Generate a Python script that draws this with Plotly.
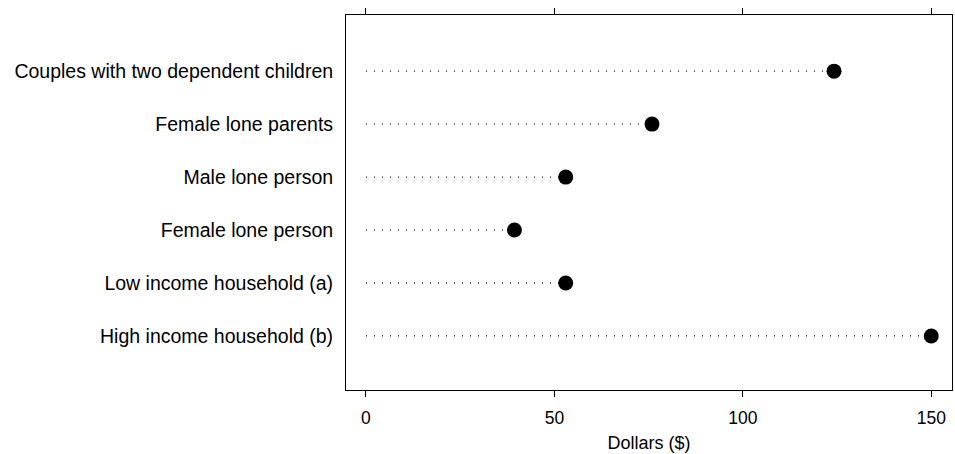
import plotly.graph_objects as go

categories = [
    "Couples with two dependent children",
    "Female lone parents",
    "Male lone person",
    "Female lone person",
    "Low income household (a)",
    "High income household (b)",
]
values = [124.2, 75.9, 53.0, 39.4, 53.0, 150.0]
x_ticks = [0, 50, 100, 150]
x_title = "Dollars ($)"

n = len(categories)
ypos = [n - 1 - i for i in range(n)]

fig = go.Figure()
for cat, v, y in zip(categories, values, ypos):
    fig.add_trace(go.Scatter(
        x=[0, v], y=[y, y], mode="lines",
        line=dict(color="#111111", width=1.3, dash="1px,7px"),
        hoverinfo="skip", showlegend=False,
    ))
fig.add_trace(go.Scatter(
    x=values, y=ypos, mode="markers",
    marker=dict(color="black", size=15),
    text=categories, showlegend=False,
))

font = "Liberation Sans, Arial, Helvetica, sans-serif"
fig.update_layout(
    width=955, height=454,
    margin=dict(l=346, r=3, t=15, b=64),
    paper_bgcolor="white", plot_bgcolor="white",
    font=dict(family=font, color="black", size=17),
    xaxis=dict(
        range=[-5.3, 155.5], tickvals=x_ticks, ticktext=[str(t) for t in x_ticks],
        showline=True, linecolor="black", linewidth=1, mirror="ticks",
        ticks="outside", ticklen=6, tickcolor="black", showgrid=False, zeroline=False,
        tickfont=dict(size=17.5), ticklabelstandoff=6,
        title=dict(text=x_title, font=dict(size=18), standoff=9),
    ),
    yaxis=dict(
        range=[-1.02, 6.06], tickvals=ypos, ticktext=categories,
        showline=True, linecolor="black", linewidth=1, mirror=True,
        ticks="", showgrid=False, zeroline=False,
        tickfont=dict(size=19.5), ticklabelstandoff=8,
    ),
)

fig.write_html("out.html")
